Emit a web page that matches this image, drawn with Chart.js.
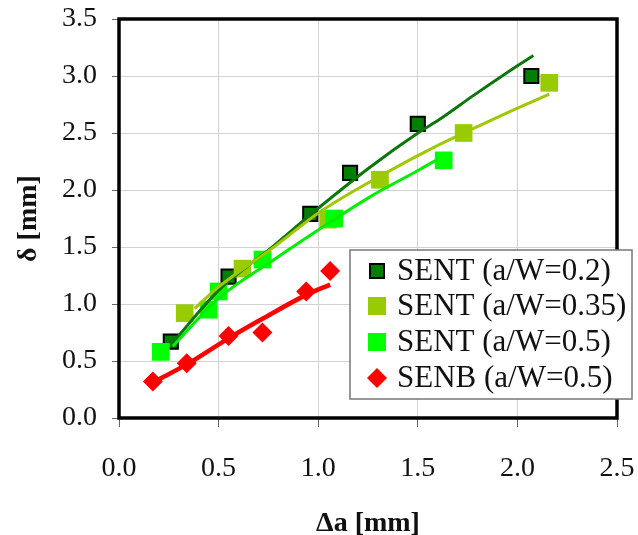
<!DOCTYPE html>
<html>
<head>
<meta charset="utf-8">
<script src="https://cdn.jsdelivr.net/npm/chart.js@4.4.0/dist/chart.umd.min.js"></script>
<style>
  html, body { margin: 0; padding: 0; background: #fff; }
</style>
</head>
<body>
<canvas id="crackChart" width="638" height="535"></canvas>
<script>
// measured points (Δa [mm], δ [mm])
const sent02X  = [0.26, 0.55, 0.96, 1.16, 1.50, 2.07];
const sent02Y  = [0.67, 1.24, 1.79, 2.15, 2.58, 3.00];
const sent035X = [0.33, 0.62, 1.05, 1.31, 1.73, 2.16];
const sent035Y = [0.92, 1.31, 1.74, 2.09, 2.50, 2.94];
const sent05X  = [0.21, 0.45, 0.50, 0.72, 1.08, 1.63];
const sent05Y  = [0.58, 0.95, 1.11, 1.39, 1.75, 2.26];
const senbX    = [0.17, 0.34, 0.55, 0.72, 0.94, 1.06];
const senbY    = [0.32, 0.48, 0.72, 0.75, 1.11, 1.29];

// fitted curves
const fit02X  = [0.26, 0.50, 0.77, 1.00, 1.26, 1.51, 1.61, 1.78, 1.94, 2.08];
const fit02Y  = [0.64, 1.12, 1.50, 1.84, 2.20, 2.51, 2.62, 2.83, 3.02, 3.18];
const fit035X = [0.38, 0.50, 0.77, 1.01, 1.34, 1.61, 1.78, 1.94, 2.16];
const fit035Y = [0.96, 1.15, 1.49, 1.81, 2.15, 2.40, 2.54, 2.67, 2.84];
const fit05X  = [0.27, 0.50, 0.77, 1.01, 1.26, 1.51, 1.60];
const fit05Y  = [0.63, 1.05, 1.38, 1.66, 1.94, 2.18, 2.27];
const fitBX   = [0.19, 0.34, 0.56, 0.72, 0.94, 1.06];
const fitBY   = [0.33, 0.47, 0.71, 0.87, 1.08, 1.17];

const seriesLabels = ['SENT (a/W=0.2)', 'SENT (a/W=0.35)', 'SENT (a/W=0.5)', 'SENB (a/W=0.5)'];
const xTicks = [0, 0.5, 1.0, 1.5, 2.0, 2.5];

const pts = (xs, ys) => xs.map((x, i) => ({ x: x, y: ys[i] }));

const serif = "'Liberation Serif', 'Times New Roman', serif";

const markerSets = [
    { label: seriesLabels[0], data: pts(sent02X, sent02Y), pointStyle: 'rect', pointRadius: 10,
      backgroundColor: '#007f00', borderColor: '#000', pointBorderWidth: 2, order: 8 },
    { label: seriesLabels[1], data: pts(sent035X, sent035Y), pointStyle: 'rect', pointRadius: 12.5,
      backgroundColor: '#99cc00', borderColor: '#99cc00', pointBorderWidth: 0, order: 7 },
    { label: seriesLabels[2], data: pts(sent05X, sent05Y), pointStyle: 'rect', pointRadius: 12.5,
      backgroundColor: '#00ff00', borderColor: '#00ff00', pointBorderWidth: 0, order: 6 },
    { label: seriesLabels[3], data: pts(senbX, senbY), pointStyle: 'rectRot', pointRadius: 10,
      backgroundColor: '#ff0000', borderColor: '#ff0000', pointBorderWidth: 0, order: 5 }
];

const fitSets = [
    { data: pts(fit02X, fit02Y), borderColor: '#0c760c', borderWidth: 3, order: 4 },
    { data: pts(fit035X, fit035Y), borderColor: '#a0c800', borderWidth: 3, order: 3 },
    { data: pts(fit05X, fit05Y), borderColor: '#00ee00', borderWidth: 3, order: 2 },
    { data: pts(fitBX, fitBY), borderColor: '#ff0000', borderWidth: 4.5, order: 1 }
].map(d => Object.assign(d, { label: '', showLine: true, pointRadius: 0,
                               cubicInterpolationMode: 'monotone', fill: false }));

// black frame round the plot + boxed legend inside it
const frameAndLegend = {
    id: 'frameAndLegend',
    afterDraw(chart) {
        const ctx = chart.ctx;
        const a = chart.chartArea;
        ctx.save();
        ctx.strokeStyle = '#000';
        ctx.lineWidth = 3.5;
        ctx.strokeRect(a.left, a.top, a.right - a.left, a.bottom - a.top);

        const bx = 350, by = 250, bw = 282, bh = 149;
        ctx.fillStyle = '#fff';
        ctx.fillRect(bx, by, bw, bh);
        ctx.strokeStyle = '#777';
        ctx.lineWidth = 1.5;
        ctx.strokeRect(bx, by, bw, bh);

        const rowY = [271, 306, 342, 378];
        ctx.font = '31px ' + serif;
        ctx.textBaseline = 'middle';
        markerSets.forEach((ds, i) => {
            const cx = 377, cy = rowY[i];
            ctx.fillStyle = ds.backgroundColor;
            if (i === 0) {
                ctx.fillRect(cx - 7, cy - 7, 14, 14);
                ctx.strokeStyle = '#000';
                ctx.lineWidth = 2;
                ctx.strokeRect(cx - 7, cy - 7, 14, 14);
            } else if (i === 3) {
                ctx.beginPath();
                ctx.moveTo(cx, cy - 10);
                ctx.lineTo(cx + 10, cy);
                ctx.lineTo(cx, cy + 10);
                ctx.lineTo(cx - 10, cy);
                ctx.closePath();
                ctx.fill();
            } else {
                ctx.fillRect(cx - 9, cy - 9, 18, 18);
            }
            ctx.fillStyle = '#111';
            ctx.fillText(ds.label, 397, cy + 1);
        });
        ctx.restore();
    }
};

const ctx = document.getElementById('crackChart').getContext('2d');
new Chart(ctx, {
    type: 'scatter',
    data: { datasets: markerSets.concat(fitSets) },
    options: {
        responsive: false,
        animation: false,
        devicePixelRatio: 1,
        layout: { padding: { top: 19, right: 21, left: 0, bottom: 0 } },
        plugins: { legend: { display: false }, tooltip: { enabled: false } },
        scales: {
            x: {
                type: 'linear', min: 0, max: 2.5,
                afterBuildTicks: s => { s.ticks = xTicks.map(v => ({ value: v })); },
                afterFit: s => { s.height = 117; s.paddingLeft = 0; s.paddingRight = 0; },
                ticks: { padding: 25, color: '#111', font: { family: serif, size: 28 },
                         callback: v => v.toFixed(1) },
                grid: { color: '#d2d2d2', lineWidth: 1, tickColor: '#666', tickLength: 9 },
                border: { display: false },
                title: { display: true, text: 'Δa [mm]', color: '#111', padding: { top: 0, bottom: -3 },
                         font: { family: serif, size: 28, weight: 'bold', lineHeight: 1 } }
            },
            y: {
                type: 'linear', min: 0, max: 3.5,
                afterFit: s => { s.width = 119; s.paddingTop = 0; s.paddingBottom = 0; },
                ticks: { stepSize: 0.5, padding: 15, color: '#111', font: { family: serif, size: 28 },
                         callback: v => v.toFixed(1) },
                grid: { color: '#d2d2d2', lineWidth: 1, tickColor: '#666', tickLength: 7 },
                border: { display: false },
                title: { display: true, text: 'δ [mm]', color: '#111', padding: { top: 12, bottom: 0 },
                         font: { family: serif, size: 28, weight: 'bold' } }
            }
        }
    },
    plugins: [frameAndLegend]
});
</script>
</body>
</html>
